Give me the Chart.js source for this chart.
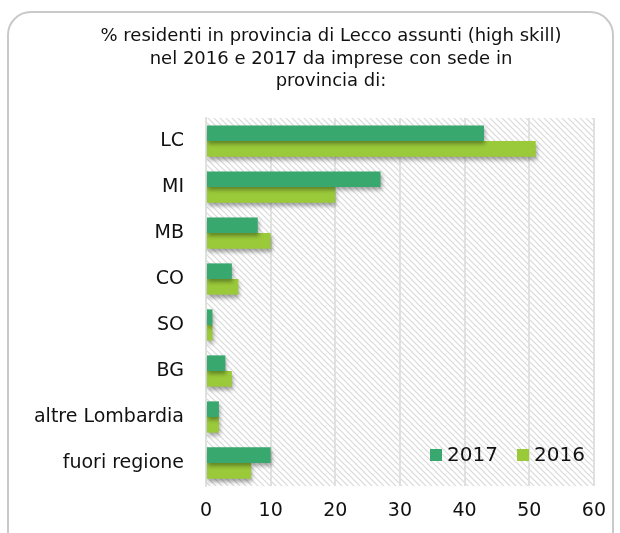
<!DOCTYPE html>
<html>
<head>
<meta charset="utf-8">
<script src="https://cdn.jsdelivr.net/npm/chart.js@4/dist/chart.umd.min.js"></script>
<style>
  body { margin: 0; background: #fff; }
  #card { position: absolute; left: 7px; top: 11px; width: 607px; height: 560px;
          border: 2px solid #c9c9c9; border-radius: 24px; box-sizing: border-box; }
  #myChart { position: absolute; left: 0; top: 0; }
</style>
</head>
<body>
<div id="card"></div>
<canvas id="myChart" width="620" height="533"></canvas>
<script>
const ctx = document.getElementById('myChart')
const provinces = ['LC', 'MI', 'MB', 'CO', 'SO', 'BG', 'altre Lombardia', 'fuori regione']
const values2017 = [43, 27, 8, 4, 1, 3, 2, 10]
const values2016 = [51, 20, 10, 5, 1, 4, 2, 7]
const xTicks = [0, 10, 20, 30, 40, 50, 60]
const font = '"DejaVu Sans", sans-serif'

// stripes behind the plot
function hatch() {
    const c = document.createElement('canvas')
    c.width = 6; c.height = 6
    const g = c.getContext('2d')
    g.strokeStyle = '#d9d9d9'
    g.lineWidth = 1.2
    g.beginPath()
    g.moveTo(-1, -1); g.lineTo(7, 7)
    g.moveTo(-1, 5); g.lineTo(1, 7)
    g.moveTo(5, -1); g.lineTo(7, 1)
    g.stroke()
    return g.createPattern(c, 'repeat')
}

const bgPlugin = {
    id: 'bg',
    beforeDraw(chart) {
        const a = chart.chartArea
        const c = chart.ctx
        c.save()
        c.fillStyle = hatch()
        c.fillRect(a.left, a.top, a.right - a.left, a.bottom - a.top)
        c.restore()
    },
    beforeDatasetsDraw(chart) {
        const c = chart.ctx
        c.save()
        c.shadowColor = 'rgba(0,0,0,0.35)'
        c.shadowBlur = 4
        c.shadowOffsetX = 1
        c.shadowOffsetY = 3
    },
    afterDatasetsDraw(chart) {
        chart.ctx.restore()
    },
    afterLayout(chart) {
        // title is centred a bit right of the canvas middle
        const t = chart.titleBlock
        const w = t.right - t.left
        t.left = 331 - w / 2
        t.right = 331 + w / 2
    },
    afterDraw(chart) {
        const c = chart.ctx
        c.save()
        c.font = '20px ' + font
        c.textBaseline = 'middle'
        let x = 430
        const y = 455
        chart.data.datasets.forEach(ds => {
            c.fillStyle = ds.backgroundColor
            c.fillRect(x, y - 6, 12, 12)
            c.fillStyle = '#111'
            c.fillText(ds.label, x + 17, y + 1)
            x += 87
        })
        c.restore()
    }
}

const myChart = new Chart(ctx, {
    type: 'bar',
    data: {
        labels: provinces,
        datasets: [
            { label: '2017', data: values2017, backgroundColor: '#38a86f' },
            { label: '2016', data: values2016, backgroundColor: '#9aca3a' }
        ]
    },
    options: {
        indexAxis: 'y',
        responsive: false,
        animation: false,
        layout: { padding: { left: 0, right: 24, top: 25, bottom: 0 } },
        datasets: { bar: { categoryPercentage: 0.68, barPercentage: 1 } },
        plugins: {
            legend: { display: false },
            tooltip: { enabled: false },
            title: {
                display: true,
                text: ['% residenti in provincia di Lecco assunti (high skill)',
                       'nel 2016 e 2017 da imprese con sede in',
                       'provincia di:'],
                color: '#111',
                font: { family: font, size: 18, weight: 'normal', lineHeight: 1.26 },
                padding: { top: 0, bottom: 25 }
            }
        },
        scales: {
            x: {
                min: 0, max: 60,
                afterBuildTicks: s => { s.ticks = xTicks.map(v => ({ value: v })) },
                afterFit: s => { s.height = 47 },
                grid: { color: '#dde2dd', lineWidth: 2, drawTicks: false },
                border: { display: false },
                ticks: { color: '#111', padding: 14, maxRotation: 0, font: { family: font, size: 19 } }
            },
            y: {
                afterFit: s => { s.width = 206 },
                grid: { display: false, drawTicks: false },
                border: { color: '#dde2dd', width: 2 },
                ticks: { color: '#111', padding: 22, font: { family: font, size: 19 } }
            }
        }
    },
    plugins: [bgPlugin]
})
</script>
</body>
</html>
